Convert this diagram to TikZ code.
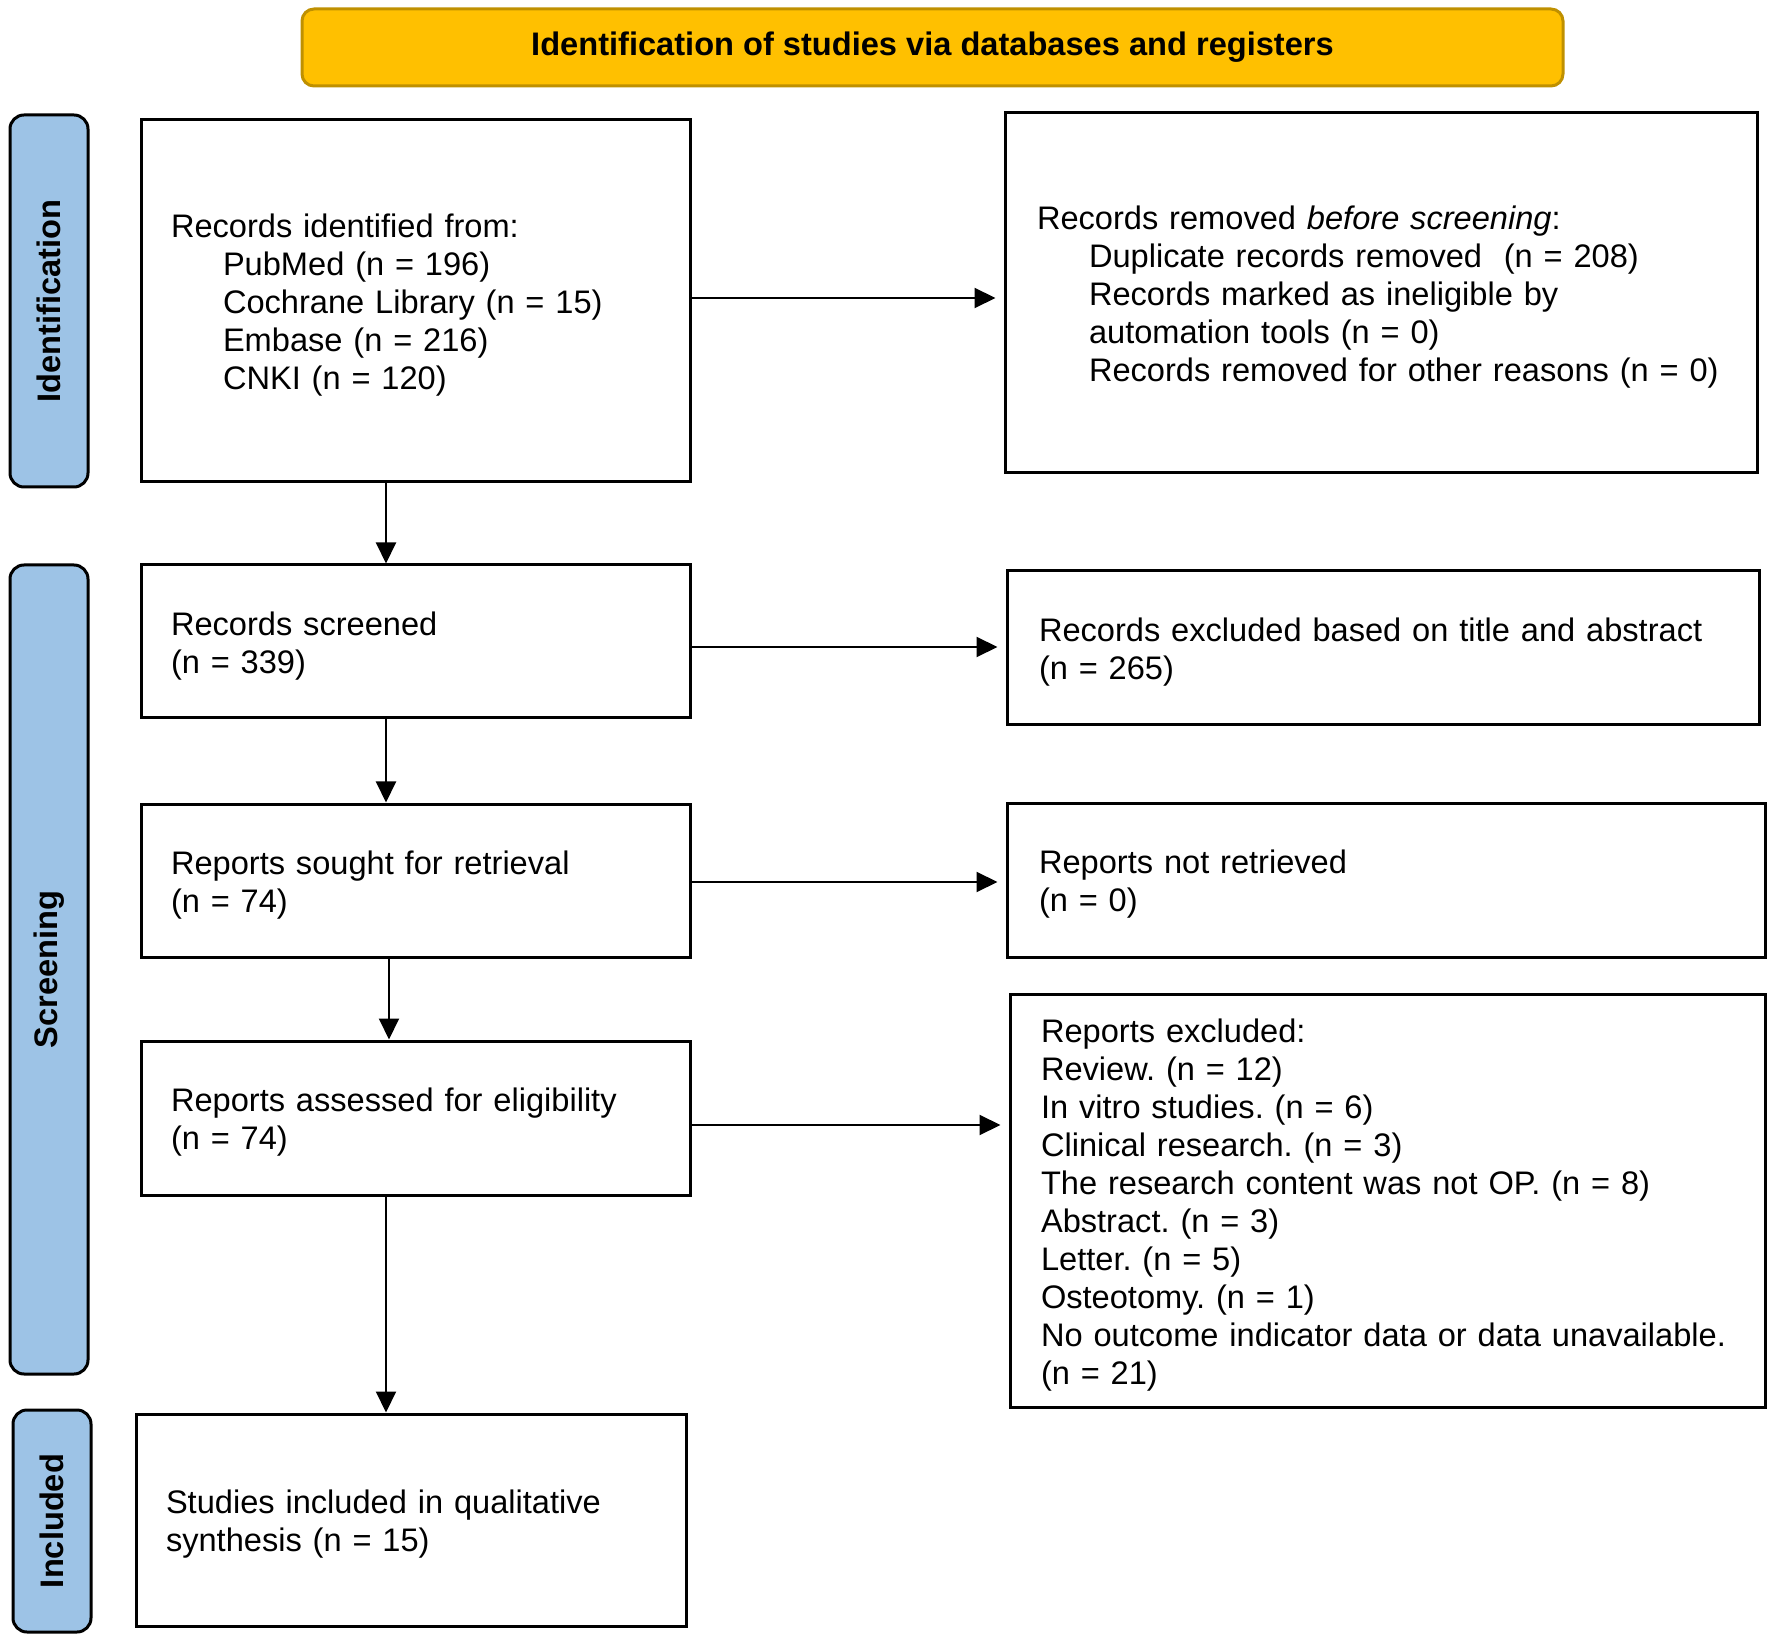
\documentclass[tikz,border=0pt]{standalone}
\usepackage{fontspec}
\setmainfont{Liberation Sans}
\usetikzlibrary{arrows.meta}
\definecolor{bannerfill}{HTML}{FFC000}
\definecolor{bannerline}{HTML}{BF9000}
\definecolor{tabfill}{HTML}{9DC3E6}
\frenchspacing
\tikzset{
  txt/.style={font=\fontsize{16.3pt}{19pt}\selectfont\frenchspacing},
  flowbox/.style={draw=black, line width=1.5pt, fill=white, txt, align=left,
    inner xsep=15pt, inner ysep=0pt, anchor=center,
    execute at begin node={\rule{0pt}{16pt}}},
  banner/.style={draw=bannerline, fill=bannerfill, line width=1.5pt, rounded corners=6pt,
    font=\fontsize{16.3pt}{19pt}\selectfont\bfseries, align=center, inner sep=0pt},
  phasetab/.style={draw=black, fill=tabfill, line width=1.5pt, rounded corners=7pt,
    font=\fontsize{16.3pt}{19pt}\selectfont\bfseries, inner sep=0pt},
  tablabel/.style={rotate=90, font=\fontsize{16.3pt}{19pt}\selectfont\bfseries},
  arr/.style={line width=1pt, -{Triangle[length=10.5pt,width=10pt]}},
}
\newcommand{\ind}{\hspace*{26pt}}
\begin{document}
\begin{tikzpicture}[x=0.5pt, y=-0.5pt]
\useasboundingbox (0,0) rectangle (1772,1641);
% banner
\node[banner, minimum width=630.5pt, minimum height=38.5pt] (ban) at (932.5,47.5)
  {Identification of studies via databases and registers};
% phase tabs
\node[phasetab, minimum width=39pt, minimum height=186pt] (tid) at (49,301) {};
\node[tablabel] (tidl) at (tid.center) {Identification};
\node[phasetab, minimum width=39pt, minimum height=404.5pt] (tsc) at (49,969.5) {};
\node[tablabel] (tscl) at (tsc.center) {Screening};
\node[phasetab, minimum width=39pt, minimum height=111pt] (tin) at (52,1521) {};
\node[tablabel] (tinl) at (tin.center) {Included};
% left column
\node[flowbox, text width=244.5pt, minimum height=181pt] (b1) at (415.5,301)
  {\mbox{Records identified from:}\\
   \mbox{\ind PubMed (n = 196)}\\
   \mbox{\ind Cochrane Library (n = 15)}\\
   \mbox{\ind Embase (n = 216)}\\
   \mbox{\ind CNKI (n = 120)}};
\node[flowbox, text width=244.5pt, minimum height=76.5pt] (b2) at (415.5,641.5)
  {Records screened\\(n = 339)};
\node[flowbox, text width=244.5pt, minimum height=76.5pt] (b3) at (415.5,880.5)
  {Reports sought for retrieval\\(n = 74)};
\node[flowbox, text width=244.5pt, minimum height=77pt] (b4) at (415.5,1118)
  {Reports assessed for eligibility\\(n = 74)};
\node[flowbox, text width=245pt, minimum height=106pt] (b5) at (411,1520)
  {Studies included in qualitative\\synthesis (n = 15)};
% right column
\node[flowbox, text width=344pt, minimum height=180pt, inner xsep=16pt] (r1) at (1381,293)
  {\mbox{Records removed \textit{before screening}:}\\
   \mbox{\ind Duplicate records removed\ \ (n = 208)}\\
   \mbox{\ind Records marked as ineligible by}\\
   \mbox{\ind automation tools (n = 0)}\\
   \mbox{\ind Records removed for other reasons (n = 0)}};
\node[flowbox, text width=344pt, minimum height=77pt, inner xsep=16pt] (r2) at (1383,648)
  {\mbox{Records excluded based on title and abstract}\\(n = 265)};
\node[flowbox, text width=347pt, minimum height=77pt, inner xsep=16pt] (r3) at (1386,880)
  {Reports not retrieved\\(n = 0)};
\node[flowbox, text width=346.5pt, minimum height=206.5pt, inner xsep=15.5pt] (r4) at (1387.5,1200.5)
  {\mbox{Reports excluded:}\\
   \mbox{Review. (n = 12)}\\
   \mbox{In vitro studies. (n = 6)}\\
   \mbox{Clinical research. (n = 3)}\\
   \mbox{The research content was not OP. (n = 8)}\\
   \mbox{Abstract. (n = 3)}\\
   \mbox{Letter. (n = 5)}\\
   \mbox{Osteotomy. (n = 1)}\\
   \mbox{No outcome indicator data or data unavailable.}\\
   \mbox{(n = 21)}};
% vertical arrows
\draw[arr] ([xshift=-14.75pt]b1.south) -- ([xshift=-14.75pt]b1.south |- b2.north);
\draw[arr] ([xshift=-14.75pt]b2.south) -- ([xshift=-14.75pt]b2.south |- b3.north);
\draw[arr] ([xshift=-13.25pt]b3.south) -- ([xshift=-13.25pt]b3.south |- b4.north);
\draw[arr] ([xshift=-14.75pt]b4.south) -- ([xshift=-14.75pt]b4.south |- b5.north);
% horizontal arrows
\draw[arr, shorten >=4pt] ([yshift=1.5pt]b1.east) -- ([yshift=1.5pt]b1.east -| r1.west);
\draw[arr, shorten >=4pt] ([yshift=-2.75pt]b2.east) -- ([yshift=-2.75pt]b2.east -| r2.west);
\draw[arr, shorten >=4pt] ([yshift=-0.75pt]b3.east) -- ([yshift=-0.75pt]b3.east -| r3.west);
\draw[arr, shorten >=4pt] ([yshift=-3.5pt]b4.east) -- ([yshift=-3.5pt]b4.east -| r4.west);
\end{tikzpicture}
\end{document}
